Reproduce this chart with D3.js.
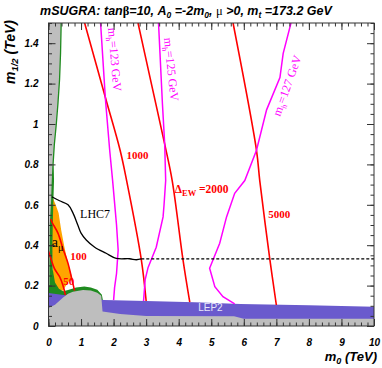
<!DOCTYPE html>
<html lang="en">
<head>
<meta charset="utf-8">
<script src="https://cdnjs.cloudflare.com/ajax/libs/d3/7.8.5/d3.min.js"></script>
<style>
body { margin: 0; background: #fff; }
svg { display: block; }
.axis path { display: none; }
.axis line { stroke: #333; }
.axis text { font: bold italic 10px "Liberation Sans", Arial, sans-serif; fill: #000; }
.serif { font-family: "Liberation Serif", "Times New Roman", serif; }
.sans { font-family: "Liberation Sans", Arial, sans-serif; }
</style>
</head>
<body>
<script>

// axis ticks
var xTicks = [0, 1, 2, 3, 4, 5, 6, 7, 8, 9, 10];
var yTicks = [0, 0.2, 0.4, 0.6, 0.8, 1, 1.2, 1.4];
var yTickLabels = ["0", "0.2", "0.4", "0.6", "0.8", "1", "1.2", "1.4"];

// excluded / favoured regions, [m0, m1/2] in TeV
var greyStrip = [[0,1.5],[0.37,1.5],[0.35,1.35],[0.32,1.22],[0.27,1.1],[0.22,1.0],[0.16,0.9],[0.12,0.8],[0.1,0.72],[0.08,0.62],[0.04,0.5],[0.03,0.3],[0.03,0.2],[0,0.2]];
var greyHill = [[0,0],[0,0.089],[0.2,0.105],[0.44,0.14],[0.6,0.16],[0.75,0.17],[1.06,0.178],[1.3,0.176],[1.5,0.165],[1.62,0.15],[1.66,0.072],[2.2,0.06],[3.0,0.05],[5.7,0.048],[6.0,0.036],[10,0.036],[10,0]];
var greenBand = [[0,1.5],[0.41,1.5],[0.39,1.35],[0.36,1.22],[0.31,1.1],[0.26,1.0],[0.2,0.9],[0.16,0.8],[0.17,0.72],[0.15,0.62],[0.13,0.5],[0.12,0.38],[0.13,0.28],[0.2,0.215],[0.32,0.185],[0.45,0.172],[0.6,0.178],[0.85,0.19],[1.1,0.195],[1.3,0.19],[1.5,0.18],[1.64,0.155],[1.68,0.12],[0,0.12]];
var lep2Band = [[0,0.163],[0.4,0.155],[1.0,0.145],[1.7,0.129],[3.0,0.124],[4.5,0.118],[5.9,0.109],[8,0.103],[10,0.0955],[10,0],[0,0]];
var amuRegion = [[0.12,0.64],[0.22,0.6],[0.31,0.56],[0.39,0.475],[0.49,0.39],[0.6,0.31],[0.68,0.265],[0.74,0.23],[0.62,0.22],[0.5,0.19],[0.45,0.175],[0.3,0.18],[0.15,0.2],[0.1,0.4],[0.1,0.6]];

// Delta_EW contours
var dew50 = [[0.0,0.37],[0.08,0.33],[0.18,0.285],[0.34,0.244],[0.44,0.203],[0.52,0.153]];
var dew100 = [[0.07,0.53],[0.12,0.51],[0.29,0.46],[0.44,0.385],[0.6,0.31],[0.7,0.244],[0.8,0.175]];
var dew1000 = [[1.11,1.5],[1.75,1.13],[2.2,0.87],[2.4,0.72],[2.85,0.33],[3.0,0.124]];
var dew2000 = [[2.75,1.5],[3.16,1.2],[3.57,0.9],[3.8,0.72],[4.13,0.33],[4.34,0.118]];
var dew5000 = [[5.67,1.5],[6.39,0.87],[6.49,0.72],[6.8,0.33],[7.0,0.104]];

// light higgs mass contours
var mh123 = [[1.6,1.5],[1.75,1.12],[1.88,0.87],[1.97,0.72],[2.09,0.5],[2.14,0.376],[2.09,0.26],[2.03,0.19],[2.0,0.128]];
var mh125 = [[3.38,1.5],[3.5,1.1],[3.57,0.9],[3.6,0.72],[3.55,0.6],[3.52,0.54],[3.31,0.39],[3.06,0.29],[2.97,0.23],[2.92,0.124]];
var mh127 = [[7.45,1.5],[7.21,1.35],[7.11,1.23],[6.7,1.07],[6.39,0.87],[6.03,0.72],[5.72,0.657],[5.47,0.54],[5.26,0.41],[4.95,0.286],[5.11,0.195],[5.36,0.145],[5.72,0.11]];

// LHC7 reach
var lhc7 = [[0.1,0.64],[0.34,0.62],[0.6,0.6],[0.75,0.56],[0.9,0.5],[1.0,0.46],[1.16,0.426],[1.42,0.39],[1.77,0.36],[2.08,0.335],[2.49,0.333],[2.7,0.328],[2.85,0.332]];
var lhc7Dashed = [[2.85,0.332],[10,0.332]];

var width = 382, height = 368;

var svg = d3.select("body").append("svg")
	.attr("width", width)
	.attr("height", height);

var x = d3.scaleLinear().domain([0, 10]).range([48.5, 374]);
var y = d3.scaleLinear().domain([0, 1.5]).range([326, 23]);

svg.append("clipPath").attr("id", "plot")
	.append("rect")
	.attr("x", x(0)).attr("y", y(1.5))
	.attr("width", x(10) - x(0)).attr("height", y(0) - y(1.5));

var plot = svg.append("g").attr("clip-path", "url(#plot)");

var line = d3.line().x(function(d) { return x(d[0]); }).y(function(d) { return y(d[1]); });
var smooth = d3.line().x(function(d) { return x(d[0]); }).y(function(d) { return y(d[1]); })
	.curve(d3.curveCatmullRom.alpha(0.5));

function region(pts, color) {
	plot.append("path").attr("d", line(pts) + "Z").style("fill", color).style("stroke", "none");
}

region(amuRegion, "#ffa500");
region(greenBand, "#1f8b1f");
region(lep2Band, "#6a5acd");
region(greyStrip, "#bebebe");
region(greyHill, "#bebebe");

function contour(pts, color, w, gen) {
	return plot.append("path").attr("d", (gen || smooth)(pts))
		.style("fill", "none").style("stroke", color).style("stroke-width", w);
}

[dew50, dew100, dew1000, dew2000, dew5000].forEach(function(c) { contour(c, "#ff0000", 1.6); });
[mh123, mh125, mh127].forEach(function(c) { contour(c, "#ff00ff", 1.5, line); });
contour(lhc7, "#000", 1.3);
contour(lhc7Dashed, "#000", 1.3, line).style("stroke-dasharray", "3,2");

// contour labels
function label(px, py, str, cls, size, color, weight) {
	return svg.append("text").attr("class", cls)
		.attr("x", px).attr("y", py)
		.style("font-size", size + "px").style("fill", color)
		.style("font-weight", weight || "normal")
		.text(str);
}

label(x(0.67), y(0.325), "100", "serif", 11, "#ff0000", "bold");
label(x(0.45), y(0.205), "50", "serif", 11, "#ff0000", "bold");
label(x(2.4), y(0.825), "1000", "serif", 11, "#ff0000", "bold");
label(x(6.75), y(0.535), "5000", "serif", 11, "#ff0000", "bold");

var dl = label(x(3.88), y(0.66), "", "serif", 11.5, "#ff0000", "bold");
dl.append("tspan").text("\u0394");
dl.append("tspan").attr("dy", 3).style("font-size", "8.5px").text("EW");
dl.append("tspan").attr("dy", -3).text(" =2000");

label(x(0.97), y(0.535), "LHC7", "serif", 12, "#000");

var al = label(x(0.1), y(0.39), "a", "serif", 14, "#000");
al.append("tspan").attr("dy", 4).style("font-size", "10px").text("\u03bc");

label(x(4.6), y(0.072), "LEP2", "sans", 10, "#e8e6fa");

function mhLabel(px, py, ang, num) {
	var t = svg.append("text").attr("class", "serif")
		.attr("transform", "translate(" + px + "," + py + ") rotate(" + ang + ")")
		.style("font-size", "12px").style("fill", "#ff00ff");
	t.append("tspan").text("m");
	t.append("tspan").attr("dy", 3).style("font-size", "8px").text("h");
	t.append("tspan").attr("dy", -3).text("=" + num + " GeV");
}
mhLabel(108, 28, 85, "123");
mhLabel(164, 38, 84, "125");
mhLabel(280, 117, -70, "127");

// axes, ticks pointing inward on all four sides
var fmt = function(d) { return yTickLabels[yTicks.indexOf(d)]; };

svg.append("g").attr("class", "axis").attr("transform", "translate(0," + y(0) + ")")
	.call(d3.axisBottom(x).tickValues(xTicks).tickSize(-7).tickPadding(12.5));
svg.append("g").attr("class", "axis").attr("transform", "translate(0," + y(0) + ")")
	.call(d3.axisBottom(x).tickValues(d3.range(0, 10.01, 0.2)).tickSize(-3.5).tickFormat(""));
svg.append("g").attr("class", "axis").attr("transform", "translate(0," + y(1.5) + ")")
	.call(d3.axisTop(x).tickValues(xTicks).tickSize(-7).tickFormat(""));
svg.append("g").attr("class", "axis").attr("transform", "translate(0," + y(1.5) + ")")
	.call(d3.axisTop(x).tickValues(d3.range(0, 10.01, 0.2)).tickSize(-3.5).tickFormat(""));

svg.append("g").attr("class", "axis").attr("transform", "translate(" + x(0) + ",0)")
	.call(d3.axisLeft(y).tickValues(yTicks).tickSize(-7).tickPadding(10).tickFormat(fmt));
svg.append("g").attr("class", "axis").attr("transform", "translate(" + x(0) + ",0)")
	.call(d3.axisLeft(y).tickValues(d3.range(0, 1.501, 0.05)).tickSize(-3.5).tickFormat(""));
svg.append("g").attr("class", "axis").attr("transform", "translate(" + x(10) + ",0)")
	.call(d3.axisRight(y).tickValues(yTicks).tickSize(-7).tickFormat(""));
svg.append("g").attr("class", "axis").attr("transform", "translate(" + x(10) + ",0)")
	.call(d3.axisRight(y).tickValues(d3.range(0, 1.501, 0.05)).tickSize(-3.5).tickFormat(""));

svg.append("rect")
	.attr("x", x(0)).attr("y", y(1.5))
	.attr("width", x(10) - x(0)).attr("height", y(0) - y(1.5))
	.style("fill", "none").style("stroke", "#333").style("stroke-width", 1);

// titles
var title = svg.append("text").attr("class", "sans")
	.attr("x", 186).attr("y", 15).attr("text-anchor", "middle")
	.style("font-size", "12.5px").style("font-weight", "bold").style("font-style", "italic");
title.append("tspan").text("mSUGRA: tan");
title.append("tspan").style("font-style", "normal").attr("class", "serif").text("\u03b2");
title.append("tspan").text("=10, A");
title.append("tspan").attr("dy", 3).style("font-size", "8.5px").text("0");
title.append("tspan").attr("dy", -3).text(" =-2m");
title.append("tspan").attr("dy", 3).style("font-size", "8.5px").text("0");
title.append("tspan").attr("dy", -3).text(", ");
title.append("tspan").style("font-style", "normal").style("font-weight", "normal").attr("class", "serif").text("\u03bc");
title.append("tspan").text(" >0, m");
title.append("tspan").attr("dy", 3).style("font-size", "8.5px").text("t");
title.append("tspan").attr("dy", -3).text(" =173.2 GeV");

var xt = svg.append("text").attr("class", "sans")
	.attr("x", 377).attr("y", 361).attr("text-anchor", "end")
	.style("font-size", "13px").style("font-weight", "bold").style("font-style", "italic");
xt.append("tspan").text("m");
xt.append("tspan").attr("dy", 3).style("font-size", "9px").text("0");
xt.append("tspan").attr("dy", -3).text(" (TeV)");

var yt = svg.append("text").attr("class", "sans")
	.attr("transform", "translate(15,20) rotate(-90)").attr("text-anchor", "end")
	.style("font-size", "14px").style("font-weight", "bold").style("font-style", "italic");
yt.append("tspan").text("m");
yt.append("tspan").attr("dy", 3).style("font-size", "9.5px").text("1/2");
yt.append("tspan").attr("dy", -3).text(" (TeV)");

</script>
</body>
</html>
